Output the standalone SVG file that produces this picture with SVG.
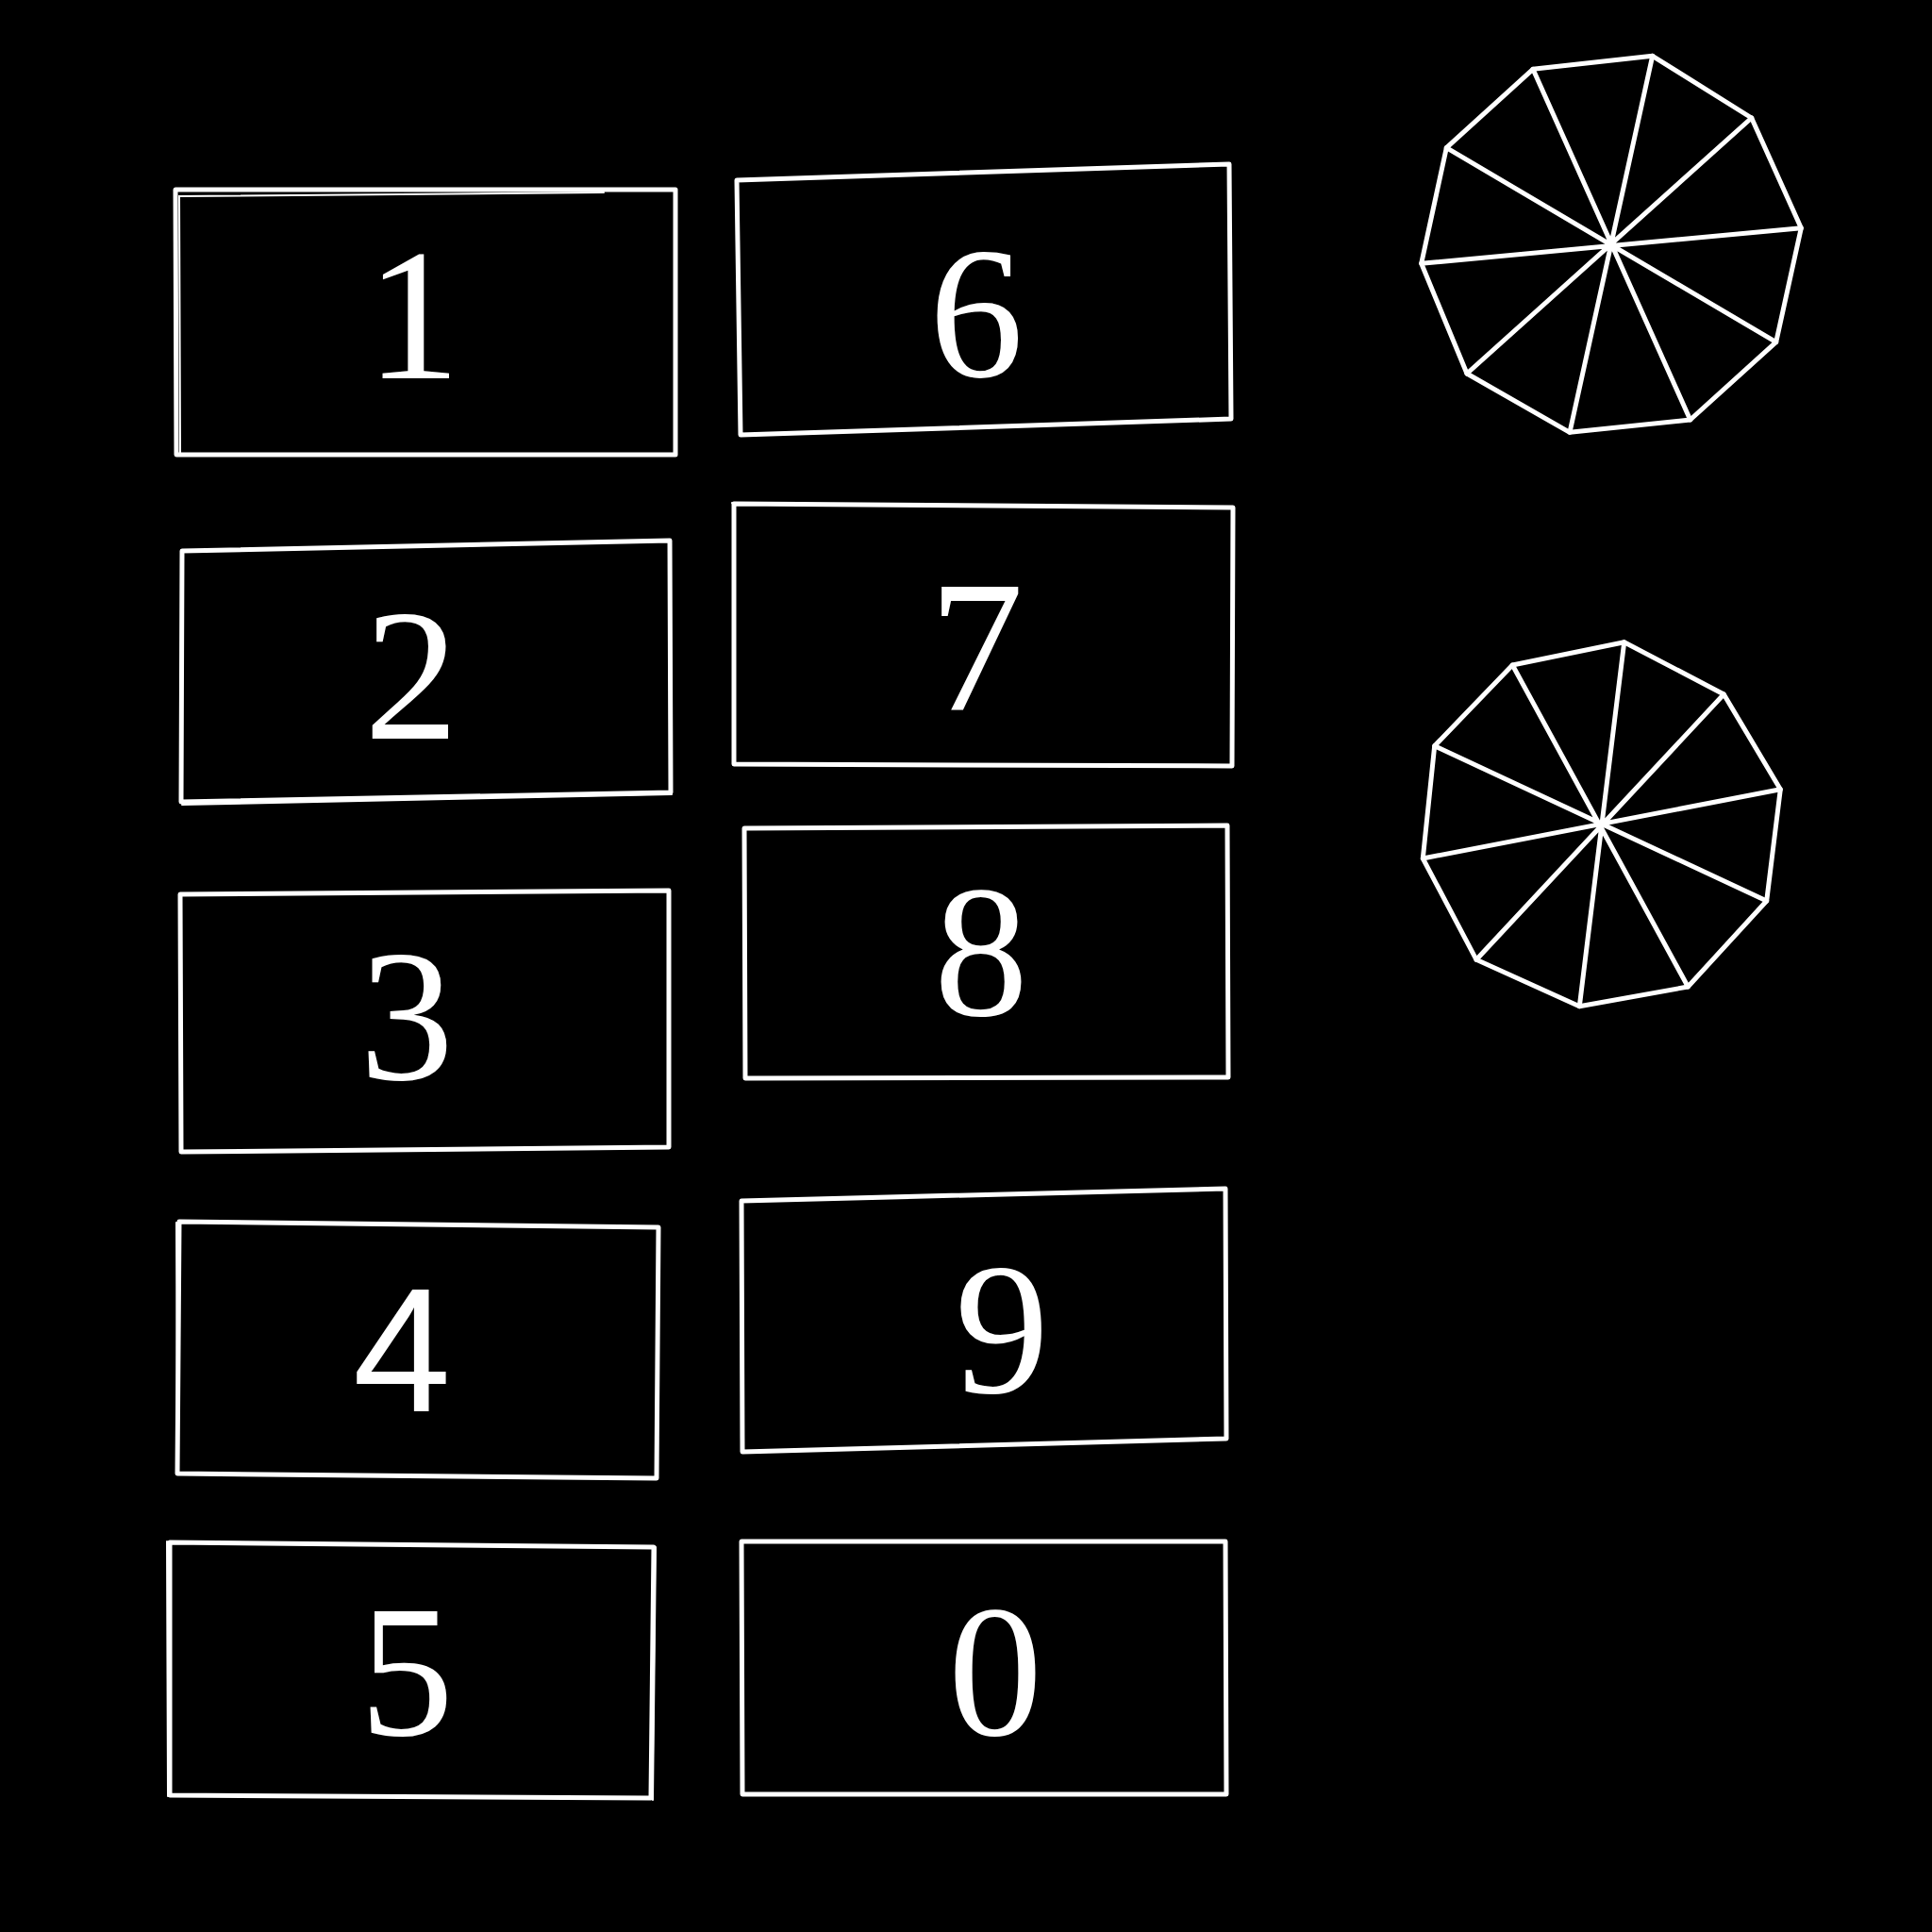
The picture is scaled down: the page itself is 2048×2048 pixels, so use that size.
<svg xmlns="http://www.w3.org/2000/svg" width="2048" height="2048" viewBox="0 0 2048 2048">
<style>
.box{fill:#000;stroke:#fff;stroke-width:5;stroke-linejoin:round;stroke-linecap:round}
.sk{fill:none;stroke:#fff;stroke-width:2;stroke-linecap:round}
.poly{fill:none;stroke:#fff;stroke-width:5;stroke-linejoin:round;stroke-linecap:round}
.lbl{fill:#fff;font-family:"Liberation Serif","Times New Roman",serif;font-size:200px;text-anchor:middle}
.lbls{fill:#fff;font-family:"Liberation Sans",Arial,sans-serif;font-size:187px;text-anchor:middle}
</style>
<rect width="2048" height="2048" fill="#000"/>
<g id="node-1">
<polygon class="box" points="186,201 716,201 716,482 187,482"/>
<path class="sk" d="M191,480 L190,208 L640,204"/>
<text class="lbl" x="438" y="401">1</text>
</g>
<g id="node-2">
<polygon class="box" points="193,584 710,573 711,840 192,850"/>
<path class="sk" d="M193,853 L712,842"/>
<text class="lbl" x="436" y="783">2</text>
</g>
<g id="node-3">
<polygon class="box" points="191,948 709,944 709,1216 192,1221"/>
<text class="lbl" x="431" y="1144">3</text>
</g>
<g id="node-4">
<polygon class="box" points="190,1295 698,1301 696,1567 188,1562"/>
<path class="sk" d="M187,1296 L188,1560"/>
<text class="lbls" x="426" y="1496">4</text>
</g>
<g id="node-5">
<polygon class="box" points="180,1635 693,1640 690,1906 180,1903"/>
<path class="sk" d="M177,1634 L178,1904 M695,1640 L692,1908"/>
<text class="lbl" x="431" y="1839">5</text>
</g>
<g id="node-6">
<polygon class="box" points="781,191 1303,174 1305,444 785,461"/>
<text class="lbl" x="1035" y="399">6</text>
</g>
<g id="node-7">
<polygon class="box" points="778,534 1307,538 1306,812 778,810"/>
<path class="sk" d="M776,533 L779,536"/>
<text class="lbl" x="1035" y="753">7</text>
</g>
<g id="node-8">
<polygon class="box" points="789,878 1301,875 1302,1142 790,1143"/>
<text class="lbl" x="1040" y="1076">8</text>
</g>
<g id="node-9">
<polygon class="box" points="786,1273 1299,1260 1300,1525 787,1539"/>
<text class="lbl" x="1062" y="1476">9</text>
</g>
<g id="node-0">
<polygon class="box" points="786,1634 1299,1634 1300,1902 787,1902"/>
<text class="lbl" x="1055" y="1839">0</text>
</g>
<g id="decagon-1">
<polygon class="poly" points="1751.7,59.3 1856.7,125 1909.3,241.7 1882.7,362.7 1791.7,445 1664,458.3 1555,396 1506.7,279.3 1533.3,156.7 1625,73.3"/>
<path class="poly" d="M1751.7,59.3 L1664,458.3 M1856.7,125 L1555,396 M1909.3,241.7 L1506.7,279.3 M1882.7,362.7 L1533.3,156.7 M1791.7,445 L1625,73.3"/>
</g>
<g id="decagon-2">
<polygon class="poly" points="1721.7,680.7 1827.3,736 1887.3,836.7 1872.7,955 1789.3,1046 1674.3,1066.7 1565,1017.3 1508.3,910 1520.7,790.7 1603.3,705"/>
<path class="poly" d="M1721.7,680.7 L1674.3,1066.7 M1827.3,736 L1565,1017.3 M1887.3,836.7 L1508.3,910 M1872.7,955 L1520.7,790.7 M1789.3,1046 L1603.3,705"/>
</g>
<g id="connectors"></g>
</svg>
